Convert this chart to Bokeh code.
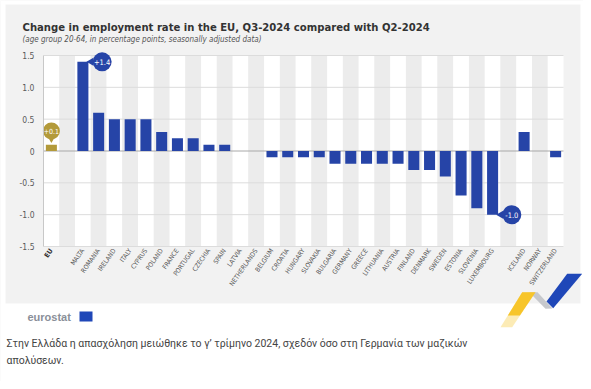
import math
from bokeh.plotting import figure
from bokeh.models import (Range1d, FixedTicker, LinearAxis, Label, BoxAnnotation,
                          PolyAnnotation, ColumnDataSource)
from bokeh.core.properties import value
from bokeh.embed import file_html
from bokeh.resources import INLINE

# ---------------- data ----------------
eu_label = "EU"
eu_value = 0.1
countries = ["MALTA", "ROMANIA", "IRELAND", "ITALY", "CYPRUS", "POLAND", "FRANCE",
             "PORTUGAL", "CZECHIA", "SPAIN", "LATVIA", "NETHERLANDS", "BELGIUM",
             "CROATIA", "HUNGARY", "SLOVAKIA", "BULGARIA", "GERMANY", "GREECE",
             "LITHUANIA", "AUSTRIA", "FINLAND", "DENMARK", "SWEDEN", "ESTONIA",
             "SLOVENIA", "LUXEMBOURG"]
country_values = [1.4, 0.6, 0.5, 0.5, 0.5, 0.3, 0.2, 0.2, 0.1, 0.1, 0.0, 0.0, -0.1,
                  -0.1, -0.1, -0.1, -0.2, -0.2, -0.2, -0.2, -0.2, -0.3, -0.3, -0.4,
                  -0.7, -0.9, -1.0]
efta = ["ICELAND", "NORWAY", "SWITZERLAND"]
efta_values = [0.3, 0.0, -0.1]
y_ticks = [-1.5, -1.0, -0.5, 0.0, 0.5, 1.0, 1.5]
y_tick_labels = ["-1.5", "-1.0", "-0.5", "0", "0.5", "1.0", "1.5"]

title_text = "Change in employment rate in the EU, Q3-2024 compared with Q2-2024"
subtitle_text = "(age group 20-64, in percentage points, seasonally adjusted data)"
caption_lines = ["Στην Ελλάδα η απασχόληση μειώθηκε το γ’ τρίμηνο 2024, σχεδόν όσο στη Γερμανία των μαζικών",
                 "απολύσεων."]

# ---------------- styles / layout ----------------
BLUE = "#2644a7"
GOLD = "#b39a3a"
CARD = "#f2f2f2"
BAND = "#ececec"
GRID = "#dcdcdc"
COND = "DejaVu Sans Condensed, sans-serif"
W, H = 583, 381
PLOT_LEFT, PLOT_TOP, PLOT_W, PLOT_H = 43, 55, 520, 191
CARD_L, CARD_R, CARD_T, CARD_B = 5, 580, 4, 303
Y0, Y1 = y_ticks[0], y_ticks[-1]

# slot layout: EU, gap, EU-27 countries, gap, EFTA
slots = [eu_label, None] + countries + [None] + efta
n_slots = len(slots)
slot_px = PLOT_W / n_slots
unit_px = PLOT_H / (Y1 - Y0)
centers = [i + 0.5 for i in range(n_slots)]
pos = {name: c for name, c in zip(slots, centers) if name is not None}

p = figure(width=W, height=H, output_backend="svg", toolbar_location=None,
           x_axis_type=None, y_axis_type=None, min_border=0,
           x_range=Range1d(-PLOT_LEFT / slot_px, (W - PLOT_LEFT) / slot_px),
           y_range=Range1d(Y0 - (H - PLOT_TOP - PLOT_H) / unit_px, Y1 + PLOT_TOP / unit_px))
p.background_fill_color = CARD
p.border_fill_color = CARD
p.outline_line_color = None
p.xgrid.visible = False
p.ygrid.visible = False

# white page around the card (screen units: x from left, y from bottom)
for l, r, b, t in [(0, W, 0, H - CARD_B), (CARD_R, W, 0, H), (0, CARD_L, 0, H),
                   (0, W, H - CARD_T, H)]:
    p.add_layout(BoxAnnotation(left=l, right=r, bottom=b, top=t, left_units="screen",
                               right_units="screen", top_units="screen",
                               bottom_units="screen", fill_color="white", fill_alpha=1,
                               line_alpha=0, level="underlay"))

# alternating bands, grid lines, zero line
band_colors = ["#ffffff" if i % 2 == 0 else BAND for i in range(n_slots)]
p.vbar(x=centers, top=Y1, bottom=Y0, width=1.0, fill_color=band_colors,
       line_color=None, level="image")
grid_y = [t for t in y_ticks if t != 0]
p.segment(x0=[0] * len(grid_y), x1=[n_slots] * len(grid_y), y0=grid_y, y1=grid_y,
          line_color=GRID, line_width=1, level="image")
p.segment(x0=[0], x1=[n_slots], y0=[0], y1=[0], line_color="#a8a8a8", line_width=1,
          level="image")

# axes (placed inside the frame)
yaxis = LinearAxis(fixed_location=0, ticker=FixedTicker(ticks=y_ticks), bounds=(Y0, Y1))
yaxis.major_label_overrides = {t: l for t, l in zip(y_ticks, y_tick_labels)}
yaxis.axis_line_color = "#c8c8c8"
yaxis.major_tick_line_color = None
yaxis.major_tick_out = 0
yaxis.major_tick_in = 0
yaxis.minor_tick_line_color = None
yaxis.major_label_standoff = 9
yaxis.major_label_text_font = COND
yaxis.major_label_text_font_size = "8.5px"
yaxis.major_label_text_color = "#5a5a5a"
p.add_layout(yaxis, "left")

label_names = [n for n in slots if n is not None]
xaxis = LinearAxis(fixed_location=Y0, ticker=FixedTicker(ticks=[pos[n] for n in label_names]))
xaxis.major_label_overrides = {pos[n]: ("" if n == eu_label else n) for n in label_names}
xaxis.axis_line_color = None
xaxis.major_tick_line_color = None
xaxis.major_tick_out = 0
xaxis.major_tick_in = 0
xaxis.minor_tick_line_color = None
xaxis.major_label_orientation = 0.96
xaxis.major_label_standoff = 3
xaxis.major_label_text_font = COND
xaxis.major_label_text_font_size = "6.5px"
xaxis.major_label_text_color = "#555555"
p.add_layout(xaxis, "below")

p.text(x=[pos[eu_label]], y=[Y0], text=[eu_label], angle=0.96, y_offset=3,
       text_font=value(COND), text_font_size="6.8px", text_font_style="bold",
       text_color="#333333", text_align="right", text_baseline="middle")

# bars
names = [eu_label] + countries + efta
bar_src = ColumnDataSource(dict(
    x=[pos[n] for n in names],
    top=[eu_value] + country_values + efta_values,
    color=[GOLD] + [BLUE] * (len(countries) + len(efta))))
p.vbar(x="x", top="top", bottom=0, width=0.7, fill_color="color",
       line_color=None, source=bar_src)

# badges
fmt = lambda v: f"{v:+.1f}"
imax = max(range(len(countries)), key=lambda i: country_values[i])
imin = min(range(len(countries)), key=lambda i: country_values[i])
ext_x = [pos[countries[imax]], pos[countries[imin]]]
ext_y = [country_values[imax], country_values[imin]]
ext_t = [fmt(v) for v in ext_y]
p.scatter(x=[x + 0.52 for x in ext_x], y=ext_y, marker="triangle", angle=math.pi / 2,
          size=8, fill_color=BLUE, line_color=None)
p.scatter(x=[x + 1.22 for x in ext_x], y=ext_y, marker="circle", size=19,
          fill_color=BLUE, line_color=None)
p.text(x=[x + 1.22 for x in ext_x], y=ext_y, text=ext_t, text_color="white",
       text_font=value(COND), text_font_size="7.5px", text_align="center",
       text_baseline="middle")

p.scatter(x=[pos[eu_label]], y=[eu_value + 0.09], marker="inverted_triangle", size=7,
          fill_color=GOLD, line_color=None)
p.scatter(x=[pos[eu_label]], y=[eu_value + 0.215], marker="circle", size=17,
          fill_color=GOLD, line_color=None)
p.text(x=[pos[eu_label]], y=[eu_value + 0.215], text=[fmt(eu_value)], text_color="white",
       text_font=value(COND), text_font_size="7px", text_align="center",
       text_baseline="middle")

# title & subtitle (screen units; frame == whole canvas)
p.add_layout(Label(x=22, y=H - 27, x_units="screen", y_units="screen", text=title_text,
                   text_font=COND, text_font_size="11.2px", text_font_style="bold",
                   text_color="#333333", text_baseline="alphabetic"))
p.add_layout(Label(x=22, y=H - 39, x_units="screen", y_units="screen", text=subtitle_text,
                   text_font=COND, text_font_size="8px", text_font_style="italic",
                   text_color="#555555", text_baseline="middle"))

# ribbon decoration (page pixel outline, y measured from the bottom)
for pts, col, a in [
        ([(529, 292), (537, 291.7), (552, 308), (545, 308.3)], "#c6c8cc", 1.0),
        ([(521.7, 291.7), (535, 291.7), (511.7, 326.7), (500, 326.7)], "#f7c52a", 0.35),
        ([(521.7, 291.7), (535, 291.7), (519.4, 315), (507.3, 315)], "#f7c52a", 1.0),
        ([(566.7, 273.3), (581.7, 273.3), (552.7, 307.7), (546, 301)], "#1f47b8", 1.0)]:
    p.add_layout(PolyAnnotation(xs=[q[0] for q in pts], ys=[H - q[1] for q in pts],
                                xs_units="screen", ys_units="screen",
                                fill_color=col, fill_alpha=a, line_alpha=0))

# eurostat logo
p.add_layout(Label(x=27, y=H - 316, x_units="screen", y_units="screen", text="eurostat",
                   text_font="Liberation Sans", text_font_size="11px",
                   text_font_style="bold", text_color="#8a8f99", text_baseline="middle"))
p.add_layout(BoxAnnotation(left=79, right=92, top=H - 311, bottom=H - 321,
                           left_units="screen", right_units="screen",
                           top_units="screen", bottom_units="screen",
                           fill_color="#1f47b8", fill_alpha=1, line_alpha=0))

# caption
for i, line in enumerate(caption_lines):
    p.add_layout(Label(x=6, y=H - 343 - 17 * i, x_units="screen", y_units="screen",
                       text=line, text_font="Roboto", text_font_size="10.5px",
                       text_color="#444444", text_baseline="middle"))

open("out.html", "w").write(file_html(p, INLINE))
